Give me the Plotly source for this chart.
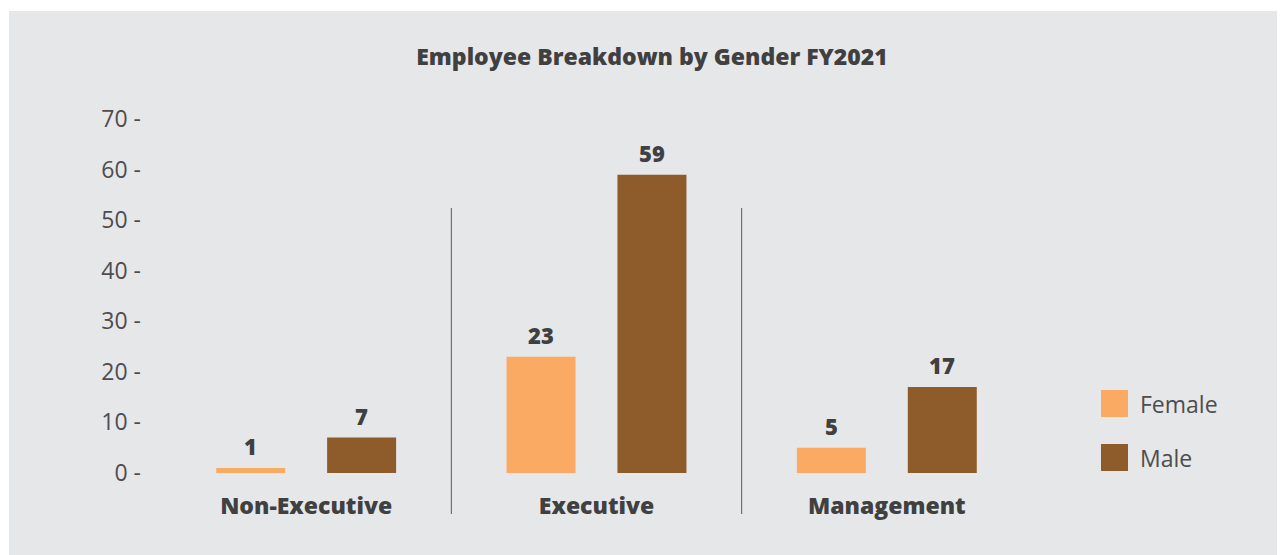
import plotly.graph_objects as go

# chart data
categories = ["Non-Executive", "Executive", "Management"]
female = [1, 23, 5]
male = [7, 59, 17]
series_names = ["Female", "Male"]
series_colors = ["#fbaa63", "#8e5b2b"]
y_ticks = [0, 10, 20, 30, 40, 50, 60, 70]

BG = "#e6e7e8"
DARK = "#404041"
GREY = "#4d4d4f"
FONT = "Open Sans"
BARGAP = 0.236

fig = go.Figure()
for name, vals, color in zip(series_names, [female, male], series_colors):
    fig.add_trace(go.Bar(
        x=categories, y=vals, name=name,
        marker=dict(color=color, line=dict(width=0)),
        showlegend=False,
    ))

# page sits at an 8px offset in the browser, figure is sized to fit
W, H = 1277, 547
L, R, T, B = 153, 253, 111, 82
pw, ph = W - L - R, H - T - B
px = lambda v: (v - 8 - L) / pw   # page pixel -> paper
py = lambda v: (H - B - (v - 8)) / ph

shapes = [
    # grey card behind everything
    dict(type="rect", xref="paper", yref="paper", layer="below",
         x0=px(9), x1=px(1300), y0=py(580), y1=py(11),
         fillcolor=BG, line=dict(width=0)),
]
# separators between categories
for i in range(len(categories) - 1):
    shapes.append(dict(type="line", xref="x", yref="paper",
                       x0=i + 0.5, x1=i + 0.5, y0=py(514), y1=py(208),
                       line=dict(color="#58595b", width=1)))

annotations = []
# value labels above each bar (centre of each grouped bar slot)
slot = (1 - BARGAP) / 2
for k, vals in enumerate([female, male]):
    off = (k - 0.5) * slot
    for i, v in enumerate(vals):
        annotations.append(dict(x=i + off, y=v, xref="x", yref="y",
                                text=str(v), showarrow=False,
                                yanchor="bottom", yshift=5,
                                font=dict(family=FONT, size=22, color=DARK, weight=800)))

# custom legend (big square swatches)
for k, (name, color) in enumerate(zip(series_names, series_colors)):
    top = 390 + k * 54
    shapes.append(dict(type="rect", xref="paper", yref="paper",
                       x0=px(1101), x1=px(1128), y0=py(top + 27), y1=py(top),
                       fillcolor=color, line=dict(width=0)))
    annotations.append(dict(text=name, xref="paper", yref="paper",
                            x=px(1138), y=py(top + 14), xanchor="left", yanchor="middle",
                            showarrow=False,
                            font=dict(family=FONT, size=23, color=GREY)))

fig.update_layout(
    width=W, height=H,
    margin=dict(l=L, r=R, t=T, b=B, pad=0),
    paper_bgcolor="white", plot_bgcolor=BG,
    barmode="group", bargap=BARGAP, bargroupgap=0.378,
    title=dict(text="Employee Breakdown by Gender FY2021",
               x=(652 - 8) / W, xref="container", xanchor="center",
               y=1 - (57 - 8) / H, yref="container", yanchor="middle",
               font=dict(family=FONT, size=23, color=DARK, weight=800)),
    xaxis=dict(range=[-0.5, 2.5], showgrid=False, zeroline=False, showline=False,
               ticks="", ticklabelstandoff=17,
               tickfont=dict(family=FONT, size=23, color=DARK, weight=800)),
    yaxis=dict(range=[0, 70], tickvals=y_ticks,
               ticktext=[f"{t} -" for t in y_ticks],
               showgrid=False, zeroline=False, showline=False, ticks="",
               ticklabelstandoff=19,
               tickfont=dict(family=FONT, size=23, color=GREY)),
    shapes=shapes, annotations=annotations,
    font=dict(family=FONT),
)

fig.write_html("out.html")
